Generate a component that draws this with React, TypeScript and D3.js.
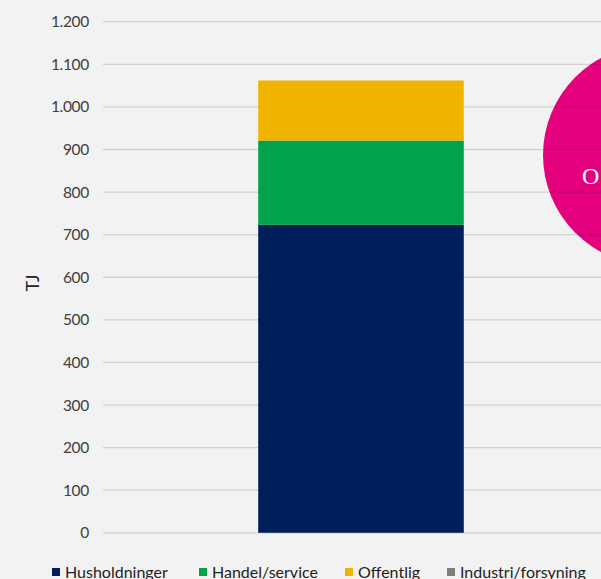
import React from "react";
import * as d3 from "d3";

const categories = ["2020"];
const seriesNames = ["Husholdninger", "Handel/service", "Offentlig", "Industri/forsyning"];
const husholdninger = [723];
const handelService = [198];
const offentlig = [141];
const industriForsyning = [0];
const yTicks = [0, 100, 200, 300, 400, 500, 600, 700, 800, 900, 1000, 1100, 1200];
const colors = ["#001e5a", "#00a34b", "#f0b400", "#7f7f7f"];

const W = 601;
const H = 579;
const plotLeft = 103;
const plotRight = 619;
const plotTop = 21.7;
const plotBottom = 532.8;

const fmt = (v: number) => d3.format(",")(v).replace(/,/g, ".");

export default function App() {
  const y = d3.scaleLinear().domain([0, 1200]).range([plotBottom, plotTop]);
  const x = d3.scaleBand().domain(categories).range([plotLeft, plotRight]).paddingInner(0.6).paddingOuter(0.302);
  const rows = categories.map((c, i) => ({
    cat: c,
    Husholdninger: husholdninger[i],
    "Handel/service": handelService[i],
    Offentlig: offentlig[i],
    "Industri/forsyning": industriForsyning[i],
  }));
  const stack = d3.stack<any>().keys(seriesNames)(rows);
  const font = "'Lato', 'Open Sans', sans-serif";
  const legendX = [52, 199, 345, 447];

  return (
    <svg width={W} height={H} style={{ position: "absolute", left: 0, top: 0, background: "#f2f2f2" }}>
      <rect x={0} y={0} width={W} height={H} fill="#f2f2f2" />
      <circle cx={653} cy={155} r={110} fill="#e5007e" />
      <text x={582} y={184} fill="#ffffff" fontFamily="'Liberation Serif', 'DejaVu Serif', serif" fontSize={24}>O</text>
      {yTicks.map((t) => (
        <g key={t}>
          <line x1={plotLeft} x2={W} y1={y(t)} y2={y(t)} stroke="#000" strokeOpacity={0.13} strokeWidth={1.3} />
          <text x={89} y={y(t)} dy="0.36em" textAnchor="end" fontFamily={font} fontSize={15.5} fill="#404040" letterSpacing={-0.3}>
            {fmt(t)}
          </text>
        </g>
      ))}
      {stack.map((s, si) =>
        s.map((d, di) => (
          <rect
            key={si + "-" + di}
            x={x(categories[di])}
            width={x.bandwidth()}
            y={y(d[1])}
            height={Math.max(0, y(d[0]) - y(d[1]))}
            fill={colors[si]}
          />
        ))
      )}
      <text
        transform={`translate(39, ${283}) rotate(-90)`}
        textAnchor="middle"
        fontFamily={font}
        fontSize={18}
        fill="#222"
      >
        TJ
      </text>
      {seriesNames.map((n, i) => (
        <g key={n}>
          <rect x={legendX[i]} y={568} width={8} height={8} fill={colors[i]} />
          <text x={legendX[i] + 13} y={577.5} fontFamily={font} fontSize={16} fill="#222">
            {n}
          </text>
        </g>
      ))}
    </svg>
  );
}
